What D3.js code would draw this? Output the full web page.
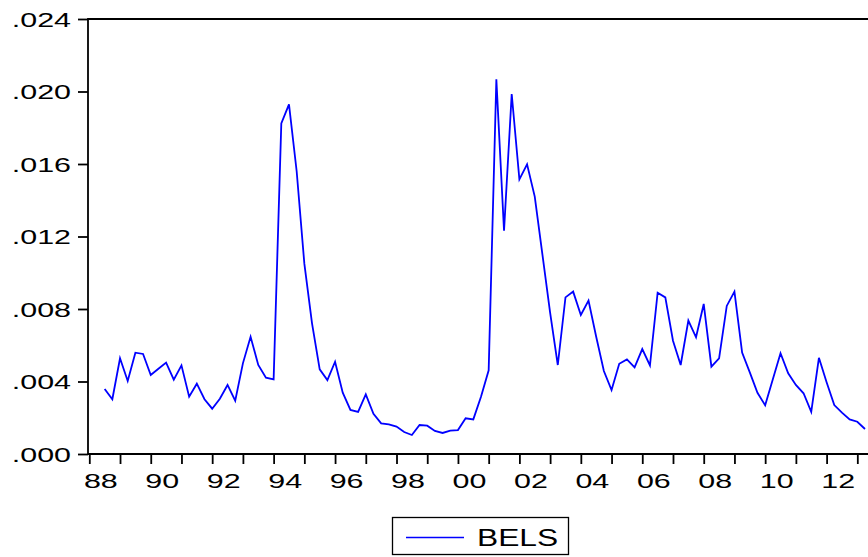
<!DOCTYPE html>
<html>
<head>
<meta charset="utf-8">
<script src="https://cdn.jsdelivr.net/npm/d3@7"></script>
<style>
  body { margin: 0; background: #fff; }
  svg text { font-family: "Liberation Sans", Arial, sans-serif; fill: #000; }
</style>
</head>
<body>
<div id="area"></div>
<script>
'use strict';

// quarterly series, first observation 1988Q3, values in units of 0.001
const firstYear = 1988;
const firstQuarter = 3;
const bels = [
  3.59, 3.02,
  5.28, 4.03, 5.59, 5.52,
  4.36, 4.70, 5.04, 4.10,
  4.89, 3.16, 3.88, 3.02,
  2.50, 3.05, 3.81, 2.94,
  5.00, 6.47, 4.91, 4.21,
  4.12, 18.24, 19.29, 15.60,
  10.50, 7.21, 4.67, 4.08,
  5.09, 3.38, 2.43, 2.32,
  3.29, 2.22, 1.69, 1.64,
  1.51, 1.21, 1.05, 1.60,
  1.56, 1.27, 1.16, 1.29,
  1.32, 1.97, 1.91, 3.16,
  4.62, 20.67, 12.32, 19.86,
  15.15, 15.98, 14.20, 11.00,
  7.80, 4.91, 8.64, 8.96,
  7.67, 8.46, 6.47, 4.58,
  3.53, 4.98, 5.22, 4.78,
  5.79, 4.89, 8.90, 8.64,
  6.25, 4.91, 7.36, 6.44,
  8.28, 4.82, 5.28, 8.17,
  8.96, 5.60, 4.50, 3.38,
  2.69, 4.12, 5.56, 4.45,
  3.81, 3.35, 2.32, 5.31,
  3.96, 2.70, 2.28, 1.91,
  1.78, 1.38
];
const yTicks = [0, 0.004, 0.008, 0.012, 0.016, 0.020, 0.024];
const tickYears = d3.range(1988, 2014);          // a tick at Q1 of every year
const labelYears = d3.range(1988, 2013, 2);      // labels every second year
const seriesName = "BELS";

const W = 868, H = 557;
const frame = { left: 88, top: 19, right: 874, bottom: 454 };
const stretch = 1.45; // the original text is stretched sideways

const svg = d3.select('#area').append('svg').attr('width', W).attr('height', H);

// quarter index, 0 = 1988Q1
const points = bels.map((v, i) => ({ q: (firstQuarter - 1) + i, v: v / 1000 }));

const x = d3.scaleLinear().domain([0, 101]).range([89.3, 865]);
const y = d3.scaleLinear().domain([0, 0.024]).range([frame.bottom, frame.top]);

// frame
svg.append('path')
  .attr('d', `M${frame.right},${frame.top} H${frame.left} V${frame.bottom} H${frame.right}`)
  .attr('fill', 'none')
  .attr('stroke', '#000')
  .attr('stroke-width', 1.8);

// y axis ticks + labels
const yAxis = svg.append('g').attr('transform', `translate(${frame.left},0)`)
  .call(d3.axisLeft(y).tickValues(yTicks).tickSize(10).tickFormat(''));
yAxis.select('.domain').remove();
yAxis.selectAll('.tick line').attr('stroke', '#000').attr('stroke-width', 1.8);

const fmt = d => d3.format('.3f')(d).replace(/^0/, '');
svg.selectAll('.ylab').data(yTicks).join('text')
  .attr('class', 'ylab')
  .attr('transform', d => `translate(71,${y(d) + 7.5}) scale(${stretch},1)`)
  .attr('text-anchor', 'end')
  .attr('font-size', 21)
  .text(fmt);

// x axis ticks at each year, labels centred on the year
const xAxis = svg.append('g').attr('transform', `translate(0,${frame.bottom})`)
  .call(d3.axisBottom(x).tickValues(tickYears.map(yr => (yr - firstYear) * 4)).tickSize(10).tickFormat(''));
xAxis.select('.domain').remove();
xAxis.selectAll('.tick line').attr('stroke', '#000').attr('stroke-width', 1.8);

svg.selectAll('.xlab').data(labelYears).join('text')
  .attr('class', 'xlab')
  .attr('transform', yr => `translate(${x((yr - firstYear) * 4 + 1.5)},488) scale(${stretch},1)`)
  .attr('text-anchor', 'middle')
  .attr('font-size', 21)
  .text(yr => String(yr % 100).padStart(2, '0'));

// the series
const line = d3.line().x(d => x(d.q)).y(d => y(d.v));
svg.append('path')
  .datum(points)
  .attr('d', line)
  .attr('fill', 'none')
  .attr('stroke', '#0000ff')
  .attr('stroke-width', 1.8)
  .attr('stroke-linejoin', 'miter');

// legend
const lg = svg.append('g');
lg.append('rect')
  .attr('x', 392.5).attr('y', 517.5).attr('width', 176).attr('height', 37)
  .attr('fill', '#fff').attr('stroke', '#000').attr('stroke-width', 1.3);
lg.append('line')
  .attr('x1', 406).attr('x2', 464).attr('y1', 537.5).attr('y2', 537.5)
  .attr('stroke', '#0000ff').attr('stroke-width', 1.6);
lg.append('text')
  .attr('transform', `translate(477,546) scale(1.38,1)`)
  .attr('font-size', 23)
  .text(seriesName);
</script>
</body>
</html>
